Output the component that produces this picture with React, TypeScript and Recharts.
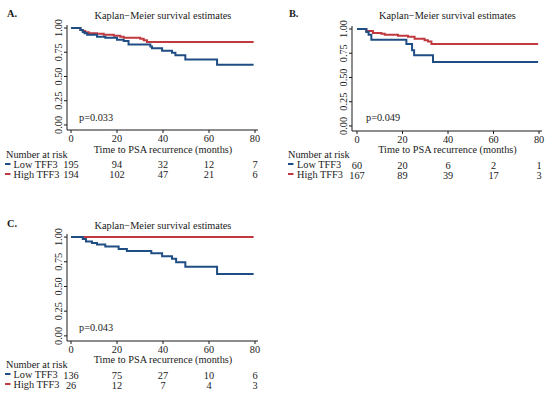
import React from "react";
import { LineChart, Line, XAxis, YAxis } from "recharts";

type Pt = { t: number; s: number };

// x ticks (months) and y ticks (survival probability)
const months = [0, 20, 40, 60, 80];
const survTicks = [0, 0.25, 0.5, 0.75, 1];

// Panel A
const aLow: Pt[] = [
  { t: 0, s: 1 }, { t: 4.1, s: 0.98 }, { t: 5.1, s: 0.96 }, { t: 5.9, s: 0.945 },
  { t: 7, s: 0.93 }, { t: 11.3, s: 0.91 }, { t: 14.9, s: 0.9 }, { t: 20, s: 0.88 },
  { t: 22.9, s: 0.865 }, { t: 25, s: 0.83 }, { t: 34.5, s: 0.81 }, { t: 35.2, s: 0.79 },
  { t: 39.6, s: 0.765 }, { t: 43.9, s: 0.745 }, { t: 45.4, s: 0.72 }, { t: 49.7, s: 0.675 },
  { t: 63.5, s: 0.62 }, { t: 79.4, s: 0.62 },
];
const aHigh: Pt[] = [
  { t: 0, s: 1 }, { t: 4.1, s: 0.98 }, { t: 5.1, s: 0.97 }, { t: 6.2, s: 0.955 },
  { t: 7.7, s: 0.945 }, { t: 11.3, s: 0.94 }, { t: 14.2, s: 0.93 }, { t: 18.6, s: 0.92 },
  { t: 21.4, s: 0.91 }, { t: 22.9, s: 0.9 }, { t: 30.1, s: 0.89 }, { t: 31.6, s: 0.875 },
  { t: 33, s: 0.855 }, { t: 79.4, s: 0.855 },
];
const aRiskLow = [195, 94, 32, 12, 7];
const aRiskHigh = [194, 102, 47, 21, 6];

// Panel B
const bLow: Pt[] = [
  { t: 0, s: 1 }, { t: 4.1, s: 0.97 }, { t: 5.1, s: 0.94 }, { t: 6.3, s: 0.89 },
  { t: 21.7, s: 0.845 }, { t: 24.2, s: 0.78 }, { t: 25.1, s: 0.73 }, { t: 33.4, s: 0.66 },
  { t: 79.6, s: 0.66 },
];
const bHigh: Pt[] = [
  { t: 0, s: 1 }, { t: 4.1, s: 0.98 }, { t: 7, s: 0.96 }, { t: 10.7, s: 0.95 },
  { t: 12.2, s: 0.94 }, { t: 18, s: 0.93 }, { t: 22.4, s: 0.92 }, { t: 25.3, s: 0.9 },
  { t: 29.7, s: 0.885 }, { t: 31.2, s: 0.87 }, { t: 32.7, s: 0.845 }, { t: 79.6, s: 0.845 },
];
const bRiskLow = [60, 20, 6, 2, 1];
const bRiskHigh = [167, 89, 39, 17, 3];

// Panel C
const cLow: Pt[] = [
  { t: 0, s: 1 }, { t: 5.1, s: 0.98 }, { t: 6.5, s: 0.955 }, { t: 9.1, s: 0.94 },
  { t: 11.3, s: 0.925 }, { t: 14.9, s: 0.905 }, { t: 20.7, s: 0.88 }, { t: 24.3, s: 0.86 },
  { t: 34.9, s: 0.835 }, { t: 39.6, s: 0.805 }, { t: 43.9, s: 0.78 }, { t: 45.7, s: 0.745 },
  { t: 49.7, s: 0.7 }, { t: 63.5, s: 0.625 }, { t: 79.4, s: 0.625 },
];
const cHigh: Pt[] = [{ t: 0, s: 1 }, { t: 79.4, s: 1 }];
const cRiskLow = [136, 75, 27, 10, 6];
const cRiskHigh = [26, 12, 7, 4, 3];

const BLUE = "#1f4e85";
const RED = "#c0393e";
const INK = "#1a1a1a";
const FONT = "'Liberation Serif', 'Times New Roman', serif";
const FS = 10.3;

type PanelProps = {
  left: number;
  top: number;
  width: number;
  height: number;
  plotTop: number;
  plotHeight: number;
  plotLeft: number;
  plotRight: number;
  xDomain: [number, number];
  low: Pt[];
  high: Pt[];
  riskLow: number[];
  riskHigh: number[];
};

function KMPanel(p: PanelProps) {
  // tick label plus the two number-at-risk rows, all placed by the x scale
  const renderXTick = (props: any) => {
    const { x, y, payload } = props;
    const i = months.indexOf(payload.value);
    return (
      <g fontFamily={FONT} fontSize={FS} fill={INK}>
        <text x={x} y={y + 6.5} textAnchor="middle">{payload.value}</text>
        <text x={x} y={y + 32.5} textAnchor="middle">{p.riskLow[i]}</text>
        <text x={x} y={y + 42.5} textAnchor="middle">{p.riskHigh[i]}</text>
      </g>
    );
  };
  const renderYTick = (props: any) => {
    const { x, y, payload } = props;
    return (
      <text
        x={x + 0.5}
        y={y}
        transform={`rotate(-90, ${x + 0.5}, ${y})`}
        textAnchor="middle"
        fontFamily={FONT}
        fontSize={FS}
        fill={INK}
      >
        {Number(payload.value).toFixed(2)}
      </text>
    );
  };
  const xAxisHeight = p.height - p.plotTop - p.plotHeight;
  return (
    <div style={{ position: "absolute", left: p.left, top: p.top }}>
      <LineChart
        width={p.width}
        height={p.height}
        margin={{ top: p.plotTop, right: p.width - p.plotRight, left: 0, bottom: 0 }}
      >
        <XAxis
          dataKey="t"
          type="number"
          domain={p.xDomain}
          ticks={months}
          interval={0}
          tickSize={3}
          height={xAxisHeight}
          stroke={INK}
          tick={renderXTick}
        />
        <YAxis
          type="number"
          domain={[-0.052, 1.031]}
          ticks={survTicks}
          interval={0}
          tickSize={3}
          width={p.plotLeft}
          stroke={INK}
          tick={renderYTick}
        />
        <Line data={p.high} dataKey="s" type="stepAfter" stroke={RED} strokeWidth={2} dot={false} isAnimationActive={false} />
        <Line data={p.low} dataKey="s" type="stepAfter" stroke={BLUE} strokeWidth={2} dot={false} isAnimationActive={false} />
      </LineChart>
    </div>
  );
}

function Labels({ dx, dy, letter, p, pX, titleX, nar, dash, rowText }: {
  dx: number; dy: number; letter: string; p: string; pX: number; titleX: number; nar: number; dash: [number, number]; rowText: number;
}) {
  return (
    <g transform={`translate(${dx}, ${dy})`} fontFamily={FONT} fontSize={FS} fill={INK}>
      <text x={nar + 1} y={16.5} fontWeight="bold">{letter}</text>
      <text x={titleX} y={18.5} textAnchor="middle">Kaplan−Meier survival estimates</text>
      <text x={pX} y={120.5}>{p}</text>
      <text x={titleX} y={152.5} textAnchor="middle">Time to PSA recurrence (months)</text>
      <text x={nar} y={157.5}>Number at risk</text>
      <line x1={dash[0]} x2={dash[1]} y1={164} y2={164} stroke={BLUE} strokeWidth={2} />
      <text x={rowText} y={167.5}>Low TFF3</text>
      <line x1={dash[0]} x2={dash[1]} y1={174} y2={174} stroke={RED} strokeWidth={2} />
      <text x={rowText} y={177.5}>High TFF3</text>
    </g>
  );
}

export default function App() {
  return (
    <div style={{ position: "absolute", left: 0, top: 0, width: 550, height: 395, background: "#fff", overflow: "hidden" }}>
      <KMPanel left={0} top={0} width={275} height={185} plotTop={25} plotHeight={105} plotLeft={67} plotRight={258}
        xDomain={[-1.75, 81.3]} low={aLow} high={aHigh} riskLow={aRiskLow} riskHigh={aRiskHigh} />
      <KMPanel left={275} top={0} width={275} height={186} plotTop={26} plotHeight={105} plotLeft={77} plotRight={267}
        xDomain={[-2.2, 81.3]} low={bLow} high={bHigh} riskLow={bRiskLow} riskHigh={bRiskHigh} />
      <KMPanel left={0} top={210} width={275} height={186} plotTop={24} plotHeight={107} plotLeft={67} plotRight={258}
        xDomain={[-1.75, 81.3]} low={cLow} high={cHigh} riskLow={cRiskLow} riskHigh={cRiskHigh} />
      <svg width={550} height={395} style={{ position: "absolute", left: 0, top: 0, pointerEvents: "none" }}>
        <Labels dx={0} dy={0} letter="A." p="p=0.033" pX={79} titleX={163} nar={6} dash={[5, 10.5]} rowText={13.5} />
        <Labels dx={275} dy={0} letter="B." p="p=0.049" pX={91} titleX={172.5} nar={13} dash={[13, 18.5]} rowText={22} />
        <Labels dx={0} dy={210} letter="C." p="p=0.043" pX={79} titleX={163} nar={6} dash={[5, 10.5]} rowText={13.5} />
      </svg>
    </div>
  );
}
